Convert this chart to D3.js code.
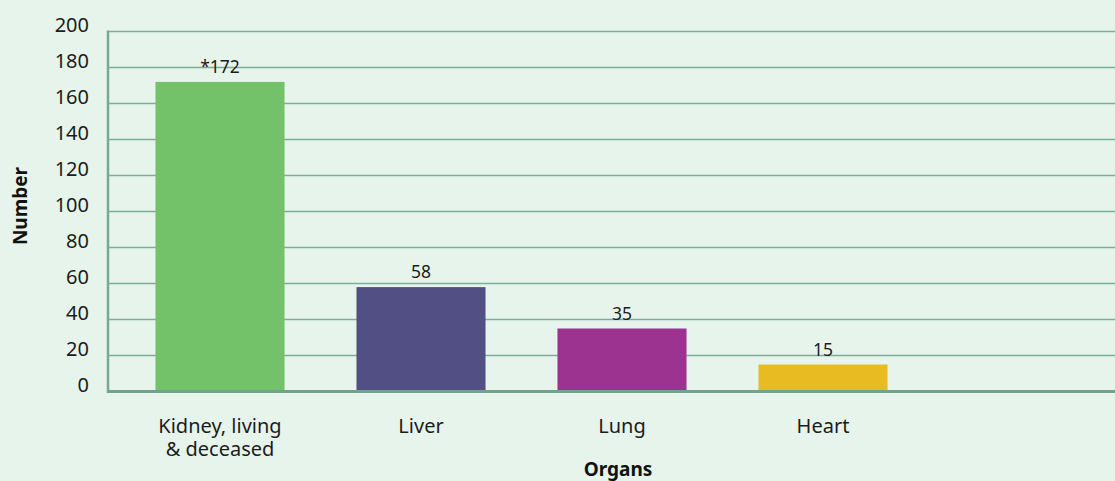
<!DOCTYPE html>
<html lang="en">
<head>
<meta charset="UTF-8">
<title>Organs</title>
<script src="https://d3js.org/d3.v7.min.js"></script>
<style>
  body { margin: 0; background: #e6f4ec; }
  svg { display: block; font-family: 'Noto Sans', 'Open Sans', sans-serif; }
</style>
</head>
<body>
<svg id="chart" width="1115" height="481"></svg>
<script>
// data
var organs = ["Kidney, living|& deceased", "Liver", "Lung", "Heart"];
var counts = [172, 58, 35, 15];
var valueLabels = ["*172", "58", "35", "15"];
var barColors = ["#73c168", "#524f85", "#9c3391", "#e9bb22"];
var yTicks = [0, 20, 40, 60, 80, 100, 120, 140, 160, 180, 200];

function drawChart() {
  var svg = d3.select("#chart");
  var W = 1115, H = 481;
  var plotLeft = 108, plotTop = 31.5, plotBottom = 391.5;
  var font = "'Noto Sans', sans-serif";

  svg.append("rect").attr("width", W).attr("height", H).attr("fill", "#e6f4ec");

  var y = d3.scaleLinear().domain([0, 200]).range([plotBottom, plotTop]);
  var x = d3.scaleBand().domain(organs).range([119.5, 923.5])
    .paddingInner(0.358).paddingOuter(0.179);

  // gridlines
  svg.append("g").selectAll("line").data(yTicks.filter(d => d > 0)).enter().append("line")
    .attr("x1", plotLeft).attr("x2", W)
    .attr("y1", d => y(d)).attr("y2", d => y(d))
    .attr("stroke", "#7eae99").attr("stroke-width", 1.5);

  // y tick labels
  var yAxis = d3.axisLeft(y).tickValues(yTicks).tickSize(0).tickPadding(0);
  var gy = svg.append("g").attr("transform", "translate(89,0)").call(yAxis);
  gy.select(".domain").remove();
  gy.selectAll("text").attr("dy", 0).attr("font-size", 20).attr("fill", "#1c1c1c")
    .attr("font-family", font);

  // bars
  svg.append("g").selectAll("rect").data(organs).enter().append("rect")
    .attr("x", d => x(d))
    .attr("width", x.bandwidth())
    .attr("y", (d, i) => y(counts[i]))
    .attr("height", (d, i) => y(0) - y(counts[i]))
    .attr("fill", (d, i) => barColors[i]);

  // value labels
  svg.append("g").selectAll("text").data(organs).enter().append("text")
    .attr("x", d => x(d) + x.bandwidth() / 2)
    .attr("y", (d, i) => y(counts[i]) - 9)
    .attr("text-anchor", "middle").attr("font-size", 17.5).attr("fill", "#1c1c1c")
    .text((d, i) => valueLabels[i]);

  // axes lines
  svg.append("line").attr("x1", plotLeft).attr("x2", plotLeft).attr("y1", plotTop - 1).attr("y2", plotBottom + 1.5)
    .attr("stroke", "#7aa895").attr("stroke-width", 2.5);
  svg.append("line").attr("x1", plotLeft).attr("x2", W).attr("y1", plotBottom).attr("y2", plotBottom)
    .attr("stroke", "#72a38f").attr("stroke-width", 3);

  // category labels, two-line ones as separate text lines
  var xAxis = d3.axisBottom(x).tickSize(0).tickFormat("");
  var gx = svg.append("g").attr("transform", "translate(0," + plotBottom + ")").call(xAxis);
  gx.select(".domain").remove();
  gx.selectAll(".tick").each(function(d) {
    var g = d3.select(this);
    d.split("|").forEach(function(s, i) {
      g.append("text").attr("x", 0).attr("y", 41 + i * 23)
        .attr("text-anchor", "middle").attr("font-size", 20).attr("fill", "#1c1c1c")
        .attr("font-family", font).text(s);
    });
  });

  // axis titles
  svg.append("text").attr("x", 618).attr("y", 476).attr("text-anchor", "middle")
    .attr("font-size", 19).attr("font-weight", "bold").attr("fill", "#111").text("Organs");
  svg.append("text").attr("transform", "translate(27,206) rotate(-90)").attr("text-anchor", "middle")
    .attr("font-size", 19).attr("font-weight", "bold").attr("fill", "#111").text("Number");
}
drawChart();
</script>
</body>
</html>
